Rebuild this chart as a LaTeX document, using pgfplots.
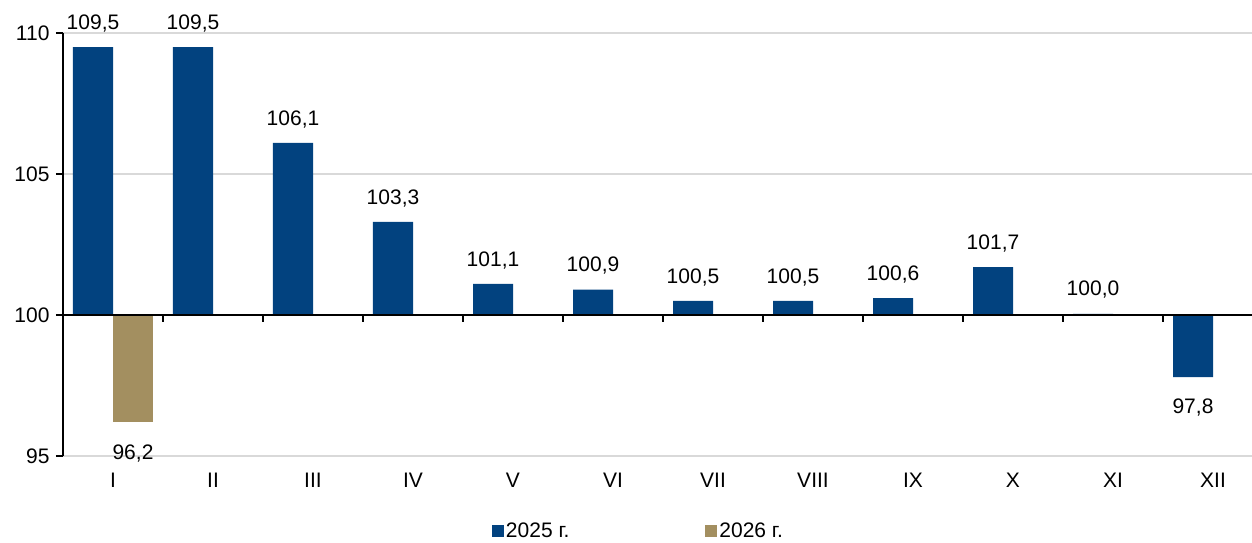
\documentclass[border=0pt]{standalone}
\usepackage{pgfplots}
\pgfplotsset{compat=1.18}
\usepackage{fontspec}
\setmainfont{Liberation Sans}
\definecolor{blue25}{HTML}{02427F}
\definecolor{tan26}{HTML}{A38F60}
\definecolor{gridgray}{HTML}{D9D9D9}
\pgfplotstableread{
x y
0 109.5
1 109.5
2 106.1
3 103.3
4 101.1
5 100.9
6 100.5
7 100.5
8 100.6
9 101.7
10 100.04
11 97.8
}\dataA
\pgfplotstableread{
x y
0 96.2
}\dataB
\begin{document}
\begin{tikzpicture}
\begin{axis}[
  at={(63bp,87bp)}, anchor=south west,
  scale only axis, width=1189bp, height=423bp,
  xmin=-0.5, xmax=11.39,
  ymin=-5, ymax=10,
  y filter/.expression={y-100},
  ytick={-5,0,5,10}, yticklabels={95,100,105,110},
  xtick={0,...,11}, xticklabels={I,II,III,IV,V,VI,VII,VIII,IX,X,XI,XII},
  axis y line*=left, axis x line*=bottom,
  x axis line style={draw=none},
  y axis line style={black, line width=1.6bp, -},
  xtick style={draw=none},
  ytick style={black, line width=1.6bp},
  tick align=outside, major tick length=7bp,
  ymajorgrids, grid style={gridgray, line width=1.3bp},
  /pgf/number format/assume math mode=true,
  tick label style={font=\fontsize{21bp}{24bp}\selectfont, black},
  yticklabel style={xshift=-3bp},
  xticklabel style={yshift=-7bp},
  ybar=0pt, bar width=40bp,
  point meta=y,
  nodes near coords={\pgfkeys{/pgf/fpu=true}\pgfmathparse{\pgfplotspointmeta+100}\pgfmathprintnumber[fixed,fixed zerofill,precision=1,use comma,assume math mode=true]{\pgfmathresult}},
  nodes near coords align={vertical},
  every node near coord/.append style={font=\fontsize{21bp}{24bp}\selectfont, black, inner sep=15bp,
    /utils/exec={\begingroup\pgfkeys{/pgf/fpu=true}\pgfmathparse{\pgfplotspointmeta<0 ? -7 : 0}\pgfmathfloattofixed{\pgfmathresult}\xdef\myshift{\pgfmathresult bp}\endgroup},
    yshift=\myshift},
  clip=false,
  legend style={at={(0.484,-0.177)}, anchor=center, draw=none, fill=none,
    font=\fontsize{21bp}{24bp}\selectfont, legend columns=2,
    /tikz/every even column/.append style={column sep=134bp}},
  legend image code/.code={\fill[#1] (0bp,-6bp) rectangle (12bp,6bp);},
]
\addplot[fill=blue25, draw=none] table[x=x,y=y] {\dataA};
\addplot[fill=tan26, draw=none] table[x=x,y=y] {\dataB};
\legend{2025 г., 2026 г.}
\draw[black, line width=2bp] (axis cs:-0.5,0) -- (axis cs:11.39,0);
\pgfplotsinvokeforeach{0.5,1.5,2.5,3.5,4.5,5.5,6.5,7.5,8.5,9.5,10.5}{\draw[black, line width=1.6bp] (axis cs:#1,0) -- ([yshift=-7bp]axis cs:#1,0);}
\end{axis}
\pgfresetboundingbox
\path (0,0) rectangle (1252bp,543bp);
\end{tikzpicture}
\end{document}
